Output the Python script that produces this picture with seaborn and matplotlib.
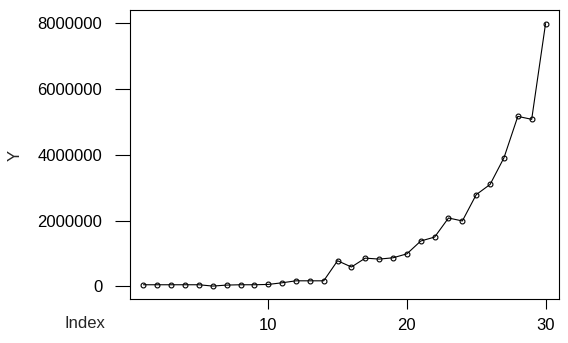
import numpy as np
import pandas as pd
import matplotlib
matplotlib.use("Agg")
import matplotlib.pyplot as plt
import seaborn as sns

# values
index = list(range(1, 31))
y_values = [50000, 50000, 50000, 50000, 50000, 10000, 40000, 50000, 50000, 60000,
            110000, 170000, 170000, 170000, 780000, 590000, 860000, 830000, 870000, 990000,
            1380000, 1500000, 2080000, 1990000, 2790000, 3100000, 3910000, 5170000, 5080000, 7990000]
y_ticks = [0, 2000000, 4000000, 6000000, 8000000]
x_ticks = [10, 20, 30]

df = pd.DataFrame({"Index": index, "Y": y_values})

sns.set_style("white")
plt.rcParams["font.family"] = ["Liberation Sans", "DejaVu Sans"]

fig = plt.figure(figsize=(5.68, 3.43), dpi=100)
ax = fig.add_axes([130 / 568, 1 - 299 / 343, 429 / 568, 289 / 343])

sns.lineplot(data=df, x="Index", y="Y", ax=ax, color="black", linewidth=0.8,
             marker="o", markersize=3.5, markerfacecolor="none",
             markeredgecolor="black", markeredgewidth=0.8)

ax.set_xlim(0.03, 30.97)
ax.set_ylim(-383000, 8404000)
ax.set_xticks(x_ticks)
ax.set_yticks(y_ticks)
ax.set_xticklabels([str(t) for t in x_ticks])
ax.set_yticklabels([str(t) for t in y_ticks])

for s in ax.spines.values():
    s.set_color("black")
    s.set_linewidth(0.8)

ax.tick_params(axis="y", direction="out", length=10.5, width=0.8, pad=9.5,
               labelsize=12, colors="black", left=True)
ax.tick_params(axis="x", direction="out", length=7.5, width=0.8, pad=6,
               labelsize=12, colors="black", bottom=True)

ax.set_ylabel("Y", fontsize=12, va="center")
ax.yaxis.set_label_coords(-115 / 429, (299 - 155) / 289)
ax.set_xlabel("Index", fontsize=12, va="center")
ax.xaxis.set_label_coords(-45 / 429, -(323 - 299) / 289)

fig.savefig("out.png", dpi=100)
